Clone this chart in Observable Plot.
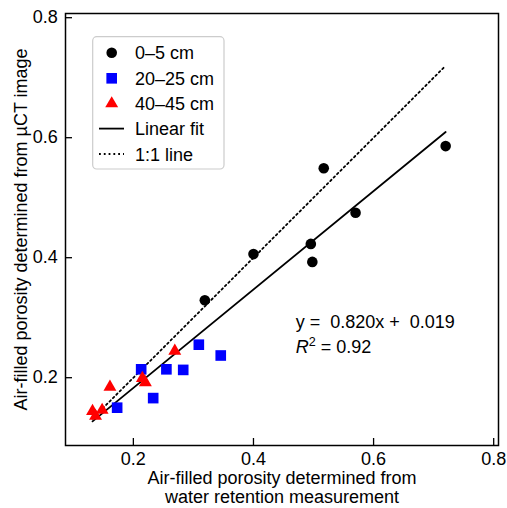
<!DOCTYPE html>
<html>
<head>
<meta charset="utf-8">
<script src="https://cdn.jsdelivr.net/npm/d3@7"></script>
<script src="https://cdn.jsdelivr.net/npm/@observablehq/plot@0.6"></script>
<style>
  html, body { margin: 0; padding: 0; background: white; }
  #chart svg { display: block; }
</style>
</head>
<body>
<div id="chart"></div>
<script>
// Data
const depth0_5_x   = [0.319, 0.400, 0.517, 0.570, 0.4955, 0.498, 0.720];
const depth0_5_y   = [0.329, 0.406, 0.549, 0.475, 0.423, 0.393, 0.586];
const depth20_25_x = [0.309, 0.3455, 0.213, 0.255, 0.283, 0.233, 0.173];
const depth20_25_y = [0.255, 0.237, 0.214, 0.214, 0.213, 0.166, 0.150];
const depth40_45_x = [0.269, 0.215, 0.220, 0.161, 0.148, 0.137, 0.132];
const depth40_45_y = [0.2445, 0.199, 0.192, 0.1845, 0.146, 0.136, 0.144];
const fitSlope = 0.820;
const fitIntercept = 0.019;
const r2 = 0.92;
const tickValues = [0.2, 0.4, 0.6, 0.8];
const seriesLabels = ["0\u20135 cm", "20\u201325 cm", "40\u201345 cm", "Linear fit", "1:1 line"];
const xLabel = "Air-filled porosity determined from\nwater retention measurement";
const yLabel = "Air-filled porosity determined from \u00b5CT image";

const toRows = (xs, ys) => xs.map((x, i) => ({x, y: ys[i]}));
const s0 = toRows(depth0_5_x, depth0_5_y);
const s1 = toRows(depth20_25_x, depth20_25_y);
const s2 = toRows(depth40_45_x, depth40_45_y);
const allX = [...depth0_5_x, ...depth20_25_x, ...depth40_45_x];
const xmin = d3.min(allX), xmax = d3.max(allX);
const fitRows = [xmin, xmax].map(x => ({x, y: fitSlope * x + fitIntercept}));
const oneRows = [xmin, xmax].map(x => ({x, y: x}));

const font = "'Liberation Sans', Arial, sans-serif";
const fs = 18;

const chart = Plot.plot({
  width: 507,
  height: 508,
  marginLeft: 65,
  marginRight: 9,
  marginTop: 13,
  marginBottom: 63,
  x: {domain: [0.087, 0.808]},
  y: {domain: [0.087, 0.807]},
  style: {fontFamily: font, fontSize: fs + "px", background: "white", color: "black"},
  marks: [
    Plot.line(oneRows, {x: "x", y: "y", stroke: "black", strokeWidth: 1.8, strokeDasharray: "1.8,3"}),
    Plot.line(fitRows, {x: "x", y: "y", stroke: "black", strokeWidth: 1.8}),
    Plot.dot(s0, {x: "x", y: "y", r: 5.3, fill: "black", symbol: "circle"}),
    Plot.dot(s1, {x: "x", y: "y", r: 6.0, fill: "#0000ff", symbol: "square"}),
    Plot.dot(s2, {x: "x", y: "y", r: 4.8, fill: "#ff0000", symbol: "triangle"}),
    Plot.frame({stroke: "black", strokeWidth: 1.5}),
    Plot.axisX({ticks: tickValues, tickSize: -7, tickPadding: 13.5, tickFormat: d3.format(".1f"), label: null, strokeWidth: 1.3, fontSize: fs}),
    Plot.axisY({ticks: tickValues, tickSize: -7, tickPadding: 14.7, tickFormat: d3.format(".1f"), label: null, strokeWidth: 1.3, fontSize: fs}),
    Plot.text([xLabel], {frameAnchor: "bottom", dy: 25, lineAnchor: "top", textAnchor: "middle", lineHeight: 1.07, fontSize: fs, fill: "black"}),
    Plot.text([yLabel], {frameAnchor: "left", dx: -44, rotate: -90, textAnchor: "middle", lineAnchor: "middle", fontSize: fs, fill: "black"})
  ]
});

document.getElementById("chart").appendChild(chart);

// Legend and annotation (drawn in the SVG)
const svg = d3.select(chart);
const lg = svg.append("g").attr("font-family", font).attr("font-size", fs).attr("text-anchor", "start");
lg.append("rect")
  .attr("x", 92.7).attr("y", 36.7).attr("width", 131.3).attr("height", 132.3)
  .attr("rx", 4).attr("fill", "white").attr("fill-opacity", 0.8)
  .attr("stroke", "#cccccc").attr("stroke-width", 1.2);
const rowY = [52.7, 78.3, 103.6, 128.6, 154];
const mx = 111.7, tx = 135;
const sym = [
  {type: d3.symbolCircle, r: 5.3, fill: "black"},
  {type: d3.symbolSquare, r: 6.0, fill: "#0000ff"},
  {type: d3.symbolTriangle, r: 4.8, fill: "#ff0000"}
];
sym.forEach((s, i) => {
  lg.append("path")
    .attr("d", d3.symbol(s.type, Math.PI * s.r * s.r)())
    .attr("transform", `translate(${mx},${rowY[i]})`)
    .attr("fill", s.fill);
});
lg.append("line").attr("x1", 99).attr("x2", 124).attr("y1", rowY[3]).attr("y2", rowY[3])
  .attr("stroke", "black").attr("stroke-width", 1.8);
lg.append("line").attr("x1", 99).attr("x2", 124).attr("y1", rowY[4]).attr("y2", rowY[4])
  .attr("stroke", "black").attr("stroke-width", 1.8).attr("stroke-dasharray", "1.8,3");
seriesLabels.forEach((t, i) => {
  lg.append("text").attr("x", tx).attr("y", rowY[i] + 6.5).text(t).attr("fill", "black");
});

const an = svg.append("g").attr("font-family", font).attr("font-size", fs).attr("fill", "black").attr("text-anchor", "start");
an.append("text").attr("x", 295.7).attr("y", 328).style("white-space", "pre")
  .text(`y =  ${fitSlope.toFixed(3)}x +  ${fitIntercept.toFixed(3)}`);
const t2 = an.append("text").attr("x", 295.7).attr("y", 353).style("white-space", "pre");
t2.append("tspan").attr("font-style", "italic").text("R");
t2.append("tspan").attr("font-size", 12.6).attr("dy", -7).text("2");
t2.append("tspan").attr("dy", 7).text(` = ${r2.toFixed(2)}`);
</script>
</body>
</html>
